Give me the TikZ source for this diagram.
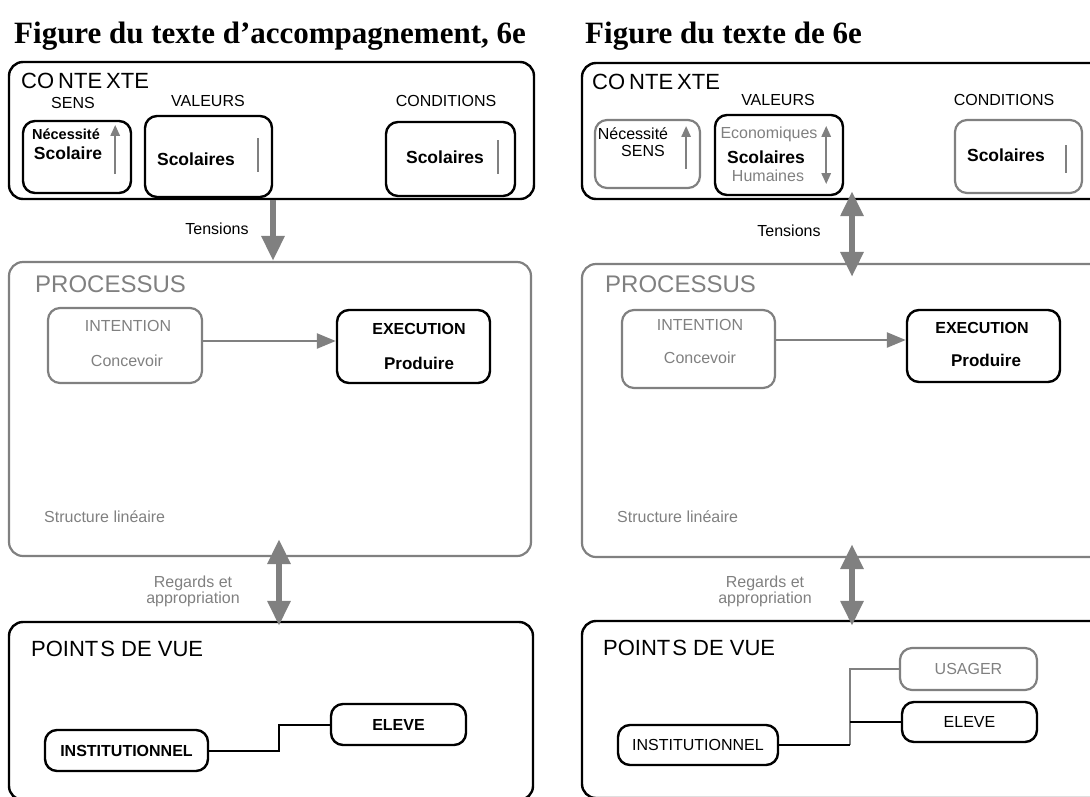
\documentclass[tikz,border=0pt]{standalone}
\usepackage{fontspec}
\setmainfont{Liberation Serif}
\setsansfont{Liberation Sans}
\usetikzlibrary{arrows.meta,calc}
\definecolor{midgray}{RGB}{128,128,128}

\tikzset{
  title/.style={anchor=base west, inner sep=0pt, font=\bfseries\fontsize{31}{36}\selectfont},
  heading/.style={anchor=west, inner sep=0pt, font=\sffamily\fontsize{22}{26}\selectfont},
  txt/.style={inner sep=0pt, font=\sffamily\fontsize{16}{19}\selectfont},
  strong/.style={inner sep=0pt, font=\sffamily\bfseries\fontsize{17.5}{20}\selectfont},
  outer/.style={draw, line width=2.4pt, rounded corners=14pt, inner sep=0pt},
  outergray/.style={outer, draw=midgray, line width=2.2pt},
  box/.style={draw, line width=2.4pt, rounded corners=12pt, inner sep=0pt,
    font=\sffamily\fontsize{16}{19}\selectfont},
  graybox/.style={box, draw=midgray, line width=2.2pt},
  bigarrow/.style={draw=midgray, line width=6pt, -{Triangle[width=22pt,length=25pt]}},
  bigboth/.style={draw=midgray, line width=6pt,
    {Triangle[width=22pt,length=25pt]}-{Triangle[width=22pt,length=25pt]}},
  tick/.style={draw=midgray, line width=2.5pt},
  tickarrow/.style={tick, -{Triangle[width=9pt,length=11pt]}},
  tickboth/.style={tick, {Triangle[width=9pt,length=11pt]}-{Triangle[width=9pt,length=11pt]}},
  flow/.style={draw=midgray, line width=2.5pt, -{Triangle[width=15pt,length=19pt]}},
  link/.style={draw, line width=2pt},
  graylink/.style={draw=midgray, line width=2pt}
}

\begin{document}
\begin{tikzpicture}[x=1pt,y=-1pt]
  \useasboundingbox (0,0) rectangle (1090,796);
  \clip (0,0) rectangle (1090,796);

  % Left: texte d'accompagnement
  \node[title] (titleL) at (14,43) {Figure du texte d’accompagnement, 6e};

  % contexte
  \node[outer, minimum width=525pt, minimum height=137pt] (ctxL) at (271.5,130.5) {};
  \node[heading] (ctxLtxt) at (21,81) {CO\hspace{4pt}NTE\hspace{4pt}XTE};
  \node[txt] (sensLlbl) at (73,103) {SENS};
  \node[txt] (valLlbl) at (208,101) {VALEURS};
  \node[txt] (condLlbl) at (446,101) {CONDITIONS};
  \node[box, minimum width=108pt, minimum height=72pt] (sensL) at (77,157) {};
  \node[strong, font=\sffamily\bfseries\fontsize{14.5}{17}\selectfont] (necL) at (66,134) {Nécessité};
  \node[strong] (scoL) at (68,153) {Scolaire};
  \draw[tickarrow] ($(sensL.south east)+(-17,-20)$) -- ($(sensL.north east)+(-17,5)$);
  \node[box, minimum width=127pt, minimum height=81pt] (valL) at (208.5,156.5) {};
  \node[strong] (valLsco) at (196,159) {Scolaires};
  \draw[tick] ($(valL.east)+(-15,-18.5)$) -- ($(valL.east)+(-15,15.5)$);
  \node[box, minimum width=129pt, minimum height=74pt] (condL) at (450.5,159) {};
  \node[strong] (condLsco) at (445,157) {Scolaires};
  \draw[tick] ($(condL.east)+(-18,-19)$) -- ($(condL.east)+(-18,15)$);

  % processus
  \node[outergray, minimum width=522pt, minimum height=294pt] (procL) at (270,409) {};
  \node[heading, text=midgray, font=\sffamily\fontsize{24}{28}\selectfont] (procLtxt) at (35,284) {PROCESSUS};
  \node[graybox, minimum width=154pt, minimum height=75pt] (intL) at (125,345.5) {};
  \node[txt, text=midgray] (intLtxt) at (128,326) {INTENTION};
  \node[txt, text=midgray] (concL) at (127,361) {Concevoir};
  \node[box, minimum width=153pt, minimum height=73pt] (exeL) at (413.5,346.5) {};
  \node[strong, font=\sffamily\bfseries\fontsize{16}{19}\selectfont] (exeLtxt) at (419,329) {EXECUTION};
  \node[strong, font=\sffamily\bfseries\fontsize{17}{20}\selectfont] (prodL) at (419,363) {Produire};
  \draw[flow] ([yshift=4.5pt]intL.east) -- ([yshift=4.5pt]intL.east -| exeL.west);
  \node[txt, anchor=west, text=midgray] (structL) at (44,517) {Structure linéaire};

  % points de vue
  \node[outer, minimum width=524pt, minimum height=178pt] (pdvL) at (271,711) {};
  \node[heading] (pdvLtxt) at (31,649) {POINT\hspace{2pt}S DE VUE};
  \node[box, font=\sffamily\bfseries\fontsize{16}{19}\selectfont,
    minimum width=163pt, minimum height=41pt] (instL) at (126.5,750.5) {INSTITUTIONNEL};
  \node[box, font=\sffamily\bfseries\fontsize{16}{19}\selectfont,
    minimum width=135pt, minimum height=41pt] (eleveL) at (398.5,724.5) {ELEVE};
  \coordinate (jL) at (279,738);
  \draw[link] (instL.east) -| (jL) |- (eleveL.west);

  % tensions, regards
  \coordinate (tenL) at (273,0);
  \draw[bigarrow] (ctxL.south -| tenL) -- (procL.north -| tenL);
  \node[txt] (tensL) at (217,229) {Tensions};
  \coordinate (regL) at (279,0);
  \draw[bigboth, shorten <=-18pt, shorten >=-5pt] (procL.south -| regL) -- (pdvL.north -| regL);
  \node[txt, text=midgray, align=center, font=\sffamily\fontsize{16}{16}\selectfont]
    (regLtxt) at (193,591) {Regards et\\appropriation};

  % Right: texte de 6e
  \node[title] (titleR) at (585,43) {Figure du texte de 6e};

  % contexte
  \node[outer, minimum width=525pt, minimum height=136pt] (ctxR) at (844.5,131) {};
  \node[heading] (ctxRtxt) at (592,82) {CO\hspace{4pt}NTE\hspace{4pt}XTE};
  \node[txt] (valRlbl) at (778,100) {VALEURS};
  \node[txt] (condRlbl) at (1004,100) {CONDITIONS};
  \node[graybox, minimum width=105pt, minimum height=68pt] (sensR) at (647.5,154) {};
  \node[txt] (necR) at (633,134) {Nécessité};
  \node[txt] (sensRtxt) at (643,151) {SENS};
  \draw[tickarrow] ($(sensR.south east)+(-15,-20)$) -- ($(sensR.north east)+(-15,7)$);
  \node[box, minimum width=128pt, minimum height=80pt] (valR) at (779,155) {};
  \node[txt, text=midgray] (ecoR) at (769,134) {Economiques};
  \node[strong] (valRsco) at (766,157) {Scolaires};
  \node[txt, text=midgray] (humR) at (768,176) {Humaines};
  \draw[tickboth] ($(valR.north east)+(-18,12)$) -- ($(valR.south east)+(-18,-12)$);
  \node[graybox, minimum width=127pt, minimum height=73pt] (condR) at (1018.5,156.5) {};
  \node[strong] (condRsco) at (1006,155) {Scolaires};
  \draw[tick] ($(condR.east)+(-17,-11.5)$) -- ($(condR.east)+(-17,16.5)$);

  % processus
  \node[outergray, minimum width=522pt, minimum height=293pt] (procR) at (843,410.5) {};
  \node[heading, text=midgray, font=\sffamily\fontsize{24}{28}\selectfont] (procRtxt) at (605,284) {PROCESSUS};
  \node[graybox, minimum width=153pt, minimum height=78pt] (intR) at (698.5,349) {};
  \node[txt, text=midgray] (intRtxt) at (700,325) {INTENTION};
  \node[txt, text=midgray] (concR) at (700,358) {Concevoir};
  \node[box, minimum width=153pt, minimum height=72pt] (exeR) at (983.5,346) {};
  \node[strong, font=\sffamily\bfseries\fontsize{16}{19}\selectfont] (exeRtxt) at (982,328) {EXECUTION};
  \node[strong, font=\sffamily\bfseries\fontsize{17}{20}\selectfont] (prodR) at (986,360) {Produire};
  \draw[flow] ([yshift=9pt]intR.east) -- ([yshift=9pt]intR.east -| exeR.west);
  \node[txt, anchor=west, text=midgray] (structR) at (617,517) {Structure linéaire};

  % points de vue
  \node[outer, minimum width=524pt, minimum height=177pt] (pdvR) at (844,709.5) {};
  \node[heading] (pdvRtxt) at (603,648) {POINT\hspace{2pt}S DE VUE};
  \node[graybox, text=midgray, minimum width=137pt, minimum height=42pt] (usagerR) at (968.5,669) {USAGER};
  \node[box, minimum width=135pt, minimum height=40pt] (eleveR) at (969.5,722) {ELEVE};
  \node[box, minimum width=160pt, minimum height=40pt] (instR) at (698,745) {INSTITUTIONNEL};
  \coordinate (jR) at (850,0);
  \draw[graylink] (instR.east -| jR) |- (usagerR.west);
  \draw[link] (instR.east) -- (instR.east -| jR);
  \draw[link] (eleveR.west -| jR) -- (eleveR.west);

  % tensions, regards
  \coordinate (tenR) at (852,0);
  \draw[bigboth, shorten <=-9pt, shorten >=-14pt] (ctxR.south -| tenR) -- (procR.north -| tenR);
  \node[txt] (tensR) at (789,231) {Tensions};
  \draw[bigboth, shorten <=-14pt, shorten >=-6pt] (procR.south -| tenR) -- (pdvR.north -| tenR);
  \node[txt, text=midgray, align=center, font=\sffamily\fontsize{16}{16}\selectfont]
    (regRtxt) at (765,591) {Regards et\\appropriation};
\end{tikzpicture}
\end{document}
